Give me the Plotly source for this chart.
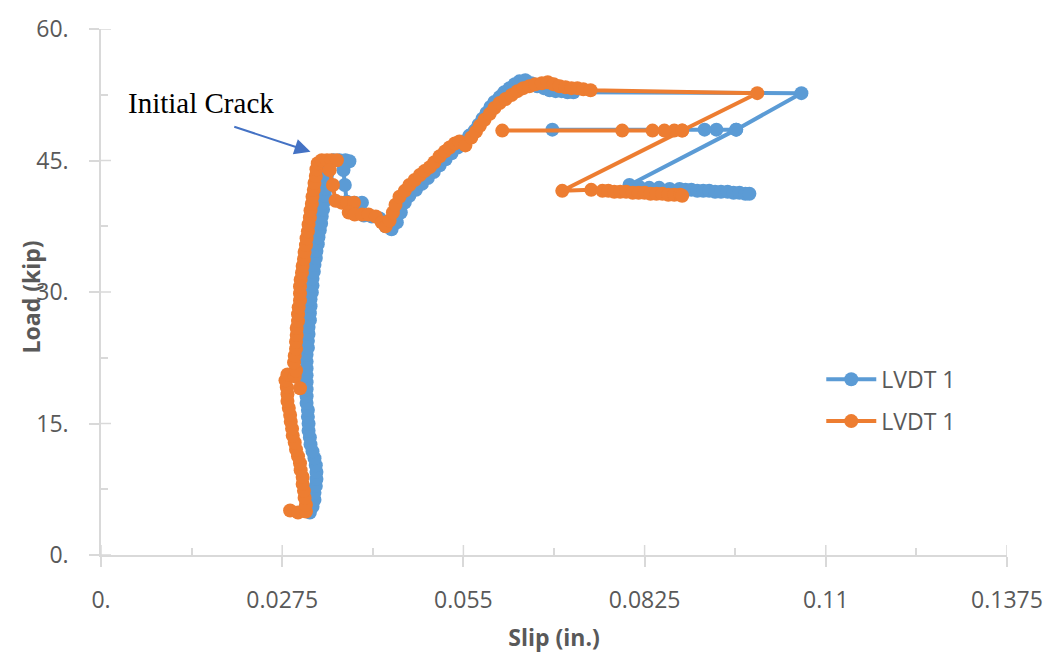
import plotly.graph_objects as go

# ---- data ----
blue_slip = [0.0308, 0.0317, 0.0321, 0.0324, 0.0324, 0.0326, 0.0327, 0.0327, 0.0326, 0.0324,
             0.0321, 0.0318, 0.0317, 0.0315, 0.0315, 0.0314, 0.0314, 0.0312, 0.0312, 0.0312,
             0.0312, 0.0312, 0.0312, 0.0312, 0.0312, 0.0314, 0.0314, 0.0315, 0.0315, 0.0317,
             0.0317, 0.0318, 0.0318, 0.0320, 0.0321, 0.0321, 0.0323, 0.0324, 0.0326, 0.0327,
             0.0329, 0.0330, 0.0332, 0.0334, 0.0335, 0.0337, 0.0338, 0.0340, 0.0341, 0.0343,
             0.0343, 0.0344, 0.0346, 0.0353, 0.0362, 0.0371, 0.0377,
             0.0368, 0.0370, 0.0373, 0.0385, 0.0396, 0.0387, 0.0399, 0.0411, 0.0423, 0.0432,
             0.0441, 0.0449, 0.0455, 0.0461, 0.0468, 0.0478, 0.0487, 0.0496, 0.0505, 0.0514,
             0.0523, 0.0532, 0.0541, 0.0550, 0.0559, 0.0567, 0.0573, 0.0579, 0.0585, 0.0591,
             0.0597, 0.0605, 0.0612, 0.0620, 0.0628, 0.0635, 0.0644, 0.0653, 0.0662, 0.0672,
             0.0681, 0.0690, 0.0699, 0.0708, 0.0717,
             0.1063, 0.0964, 0.0934, 0.0916, 0.0685, 0.0964,
             0.0802, 0.0817, 0.0832, 0.0847, 0.0863, 0.0878, 0.0887, 0.0896, 0.0905, 0.0914,
             0.0923, 0.0932, 0.0941, 0.0951, 0.0960, 0.0969, 0.0978, 0.0984]
blue_load = [5.07, 4.84, 5.52, 6.30, 7.09, 7.88, 8.67, 9.46, 10.24, 11.03,
             11.82, 12.61, 13.40, 14.18, 14.97, 15.76, 16.55, 17.34, 18.12, 18.91,
             19.70, 20.49, 21.28, 22.06, 22.85, 23.64, 24.43, 25.22, 26.00, 26.79,
             27.58, 28.37, 29.16, 29.94, 30.73, 31.52, 32.31, 33.10, 33.88, 34.67,
             35.46, 36.25, 37.04, 37.82, 38.61, 39.40, 40.19, 40.98, 41.76, 42.55,
             43.34, 44.13, 44.80, 45.03, 45.03, 45.03, 44.91,
             43.90, 42.21, 40.30, 40.19, 40.19, 38.95, 38.72, 38.61, 38.39, 37.49,
             37.15, 37.94, 39.06, 40.19, 40.98, 41.65, 42.33, 43.00, 43.68, 44.46,
             45.14, 45.82, 46.49, 47.17, 47.84, 48.41, 49.08, 49.76, 50.43, 51.11,
             51.67, 52.23, 52.79, 53.25, 53.70, 54.03, 54.15, 53.81, 53.47, 53.25,
             53.02, 52.91, 52.91, 52.79, 52.79,
             52.68, 48.52, 48.52, 48.52, 48.52, 48.52,
             42.21, 41.99, 41.88, 41.88, 41.76, 41.76, 41.65, 41.65, 41.54, 41.54,
             41.54, 41.43, 41.43, 41.43, 41.31, 41.31, 41.20, 41.20]

orange_slip = [0.0287, 0.0299, 0.0311, 0.0311, 0.0309, 0.0308, 0.0306, 0.0306, 0.0303, 0.0302,
               0.0299, 0.0296, 0.0294, 0.0291, 0.0290, 0.0288, 0.0287, 0.0285, 0.0283, 0.0283,
               0.0282, 0.0280, 0.0283, 0.0294, 0.0302, 0.0296, 0.0293, 0.0294, 0.0296, 0.0296,
               0.0297, 0.0297, 0.0299, 0.0299, 0.0300, 0.0302, 0.0302, 0.0302, 0.0303, 0.0305,
               0.0306, 0.0308, 0.0309, 0.0311, 0.0312, 0.0314, 0.0315, 0.0317, 0.0318, 0.0320,
               0.0321, 0.0323, 0.0324, 0.0326, 0.0327, 0.0329, 0.0335, 0.0343, 0.0350, 0.0358,
               0.0347, 0.0352, 0.0356, 0.0365, 0.0374, 0.0384, 0.0376, 0.0385, 0.0396, 0.0406,
               0.0417, 0.0426, 0.0432, 0.0438, 0.0443, 0.0447, 0.0453, 0.0461, 0.0468, 0.0476,
               0.0484, 0.0491, 0.0499, 0.0506, 0.0514, 0.0522, 0.0529, 0.0537, 0.0544, 0.0553,
               0.0562, 0.0569, 0.0575, 0.0582, 0.0590, 0.0597, 0.0605, 0.0614, 0.0623, 0.0632,
               0.0641, 0.0650, 0.0659, 0.0669, 0.0678, 0.0687, 0.0696, 0.0705, 0.0714, 0.0723,
               0.0732, 0.0743,
               0.0996, 0.0882, 0.0870, 0.0855, 0.0837, 0.0791, 0.0609, 0.0882,
               0.0700, 0.0744, 0.0761, 0.0770, 0.0779, 0.0788, 0.0797, 0.0807, 0.0816, 0.0825,
               0.0834, 0.0843, 0.0852, 0.0861, 0.0870, 0.0879, 0.0882]
orange_load = [5.07, 4.84, 4.95, 5.74, 6.53, 7.32, 8.11, 8.89, 9.68, 10.47,
               11.26, 12.04, 12.83, 13.62, 14.41, 15.20, 15.98, 16.77, 17.56, 18.35,
               19.14, 19.92, 20.60, 20.37, 19.02, 21.05, 21.95, 22.74, 23.53, 24.32,
               25.10, 25.89, 26.68, 27.47, 28.25, 29.04, 29.83, 30.62, 31.41, 32.19,
               32.98, 33.77, 34.56, 35.35, 36.13, 36.92, 37.71, 38.50, 39.29, 40.07,
               40.86, 41.65, 42.44, 43.23, 44.01, 44.69, 45.03, 45.03, 45.03, 45.03,
               43.90, 42.21, 40.41, 40.19, 40.19, 40.19, 39.06, 38.84, 38.84, 38.84,
               38.61, 37.94, 37.49, 38.16, 39.06, 39.96, 40.86, 41.54, 42.21, 42.78,
               43.34, 43.79, 44.24, 44.80, 45.48, 46.04, 46.49, 46.94, 47.17, 46.72,
               47.62, 48.29, 48.97, 49.64, 50.32, 50.99, 51.56, 52.01, 52.46, 52.91,
               53.25, 53.47, 53.70, 53.81, 53.92, 53.70, 53.47, 53.36, 53.25, 53.25,
               53.13, 53.02,
               52.68, 48.41, 48.41, 48.41, 48.41, 48.41, 48.41, 48.41,
               41.54, 41.65, 41.54, 41.54, 41.43, 41.43, 41.43, 41.31, 41.31, 41.31,
               41.20, 41.20, 41.20, 41.09, 41.09, 41.09, 40.98]

x_ticks = [0, 0.0275, 0.055, 0.0825, 0.11, 0.1375]
x_labels = ["0.", "0.0275", "0.055", "0.0825", "0.11", "0.1375"]
x_minor = [0.01375, 0.04125, 0.06875, 0.09625, 0.12375]
y_ticks = [0, 15, 30, 45, 60]
y_labels = ["0.", "15.", "30.", "45.", "60."]
y_minor = [7.5, 22.5, 37.5, 52.5]
series_names = ["LVDT 1", "LVDT 1"]

BLUE = "#5B9BD5"
ORANGE = "#ED7D31"
GREY_TXT = "#595959"
AXIS = "#D9D9D9"
FONT = "Open Sans"

fig = go.Figure()
for i, (xs, ys, col, name) in enumerate([(blue_slip, blue_load, BLUE, series_names[0]),
                                         (orange_slip, orange_load, ORANGE, series_names[1])]):
    fig.add_trace(go.Scatter(x=xs, y=ys, mode="lines+markers", name=name,
                             legendgroup=f"g{i}",
                             line=dict(color=col, width=4),
                             marker=dict(color=col, size=14)))

fig.update_layout(
    width=1055, height=666,
    margin=dict(l=101, r=47, t=22, b=111),
    paper_bgcolor="white", plot_bgcolor="white",
    font=dict(family=FONT, color=GREY_TXT, size=22),
    xaxis=dict(range=[0, 0.1375], tickvals=x_ticks, ticktext=x_labels,
               showgrid=False, zeroline=False, showline=True, linecolor=AXIS, linewidth=1.5,
               ticks="outside", ticklen=10, tickcolor=AXIS, tickwidth=1.5,
               tickfont=dict(size=23, color=GREY_TXT), ticklabelstandoff=14,
               minor=dict(tickvals=x_minor, ticks="inside", ticklen=7,
                          tickcolor=AXIS, tickwidth=1.5),
               title=dict(text="<b>Slip (in.)</b>", font=dict(size=23, color=GREY_TXT), standoff=16)),
    yaxis=dict(range=[0, 60], tickvals=y_ticks, ticktext=y_labels,
               showgrid=False, zeroline=False, showline=True, linecolor=AXIS, linewidth=1.5,
               ticks="outside", ticklen=10, tickcolor=AXIS, tickwidth=1.5,
               tickfont=dict(size=23, color=GREY_TXT), ticklabelstandoff=16,
               minor=dict(tickvals=y_minor, ticks="inside", ticklen=7,
                          tickcolor=AXIS, tickwidth=1.5)),
    legend=dict(x=0.795, y=0.375, xanchor="left", yanchor="top",
                font=dict(size=23, color=GREY_TXT), bgcolor="rgba(0,0,0,0)",
                itemwidth=50, tracegroupgap=9),
    showlegend=True,
)

# inner half of the crossing major ticks
for tv in x_ticks:
    fig.add_shape(type="line", xref="x", yref="paper", x0=tv, x1=tv,
                  ysizemode="pixel", yanchor=0, y0=0, y1=10,
                  line=dict(color=AXIS, width=1.5), layer="below")
for tv in y_ticks:
    fig.add_shape(type="line", yref="y", xref="paper", y0=tv, y1=tv,
                  xsizemode="pixel", xanchor=0, x0=0, x1=10,
                  line=dict(color=AXIS, width=1.5), layer="below")

# y-axis title placed like the reference (overlapping the tick-label column)
fig.add_annotation(x=-0.077, y=0.49, xref="paper", yref="paper", text="<b>Load (kip)</b>",
                   textangle=-90, showarrow=False, xanchor="center", yanchor="middle",
                   font=dict(family=FONT, size=23, color=GREY_TXT))

fig.add_annotation(x=0.0318, y=46.0, ax=0.0200, ay=48.9, axref="x", ayref="y",
                   xref="x", yref="y", text="", showarrow=True,
                   arrowhead=2, arrowsize=1.6, arrowwidth=2, arrowcolor="#4472C4")
fig.add_annotation(x=0.0152, y=51.6, xref="x", yref="y", text="Initial Crack",
                   showarrow=False, font=dict(family="Liberation Serif", size=29, color="black"))

fig.write_html("out.html")
